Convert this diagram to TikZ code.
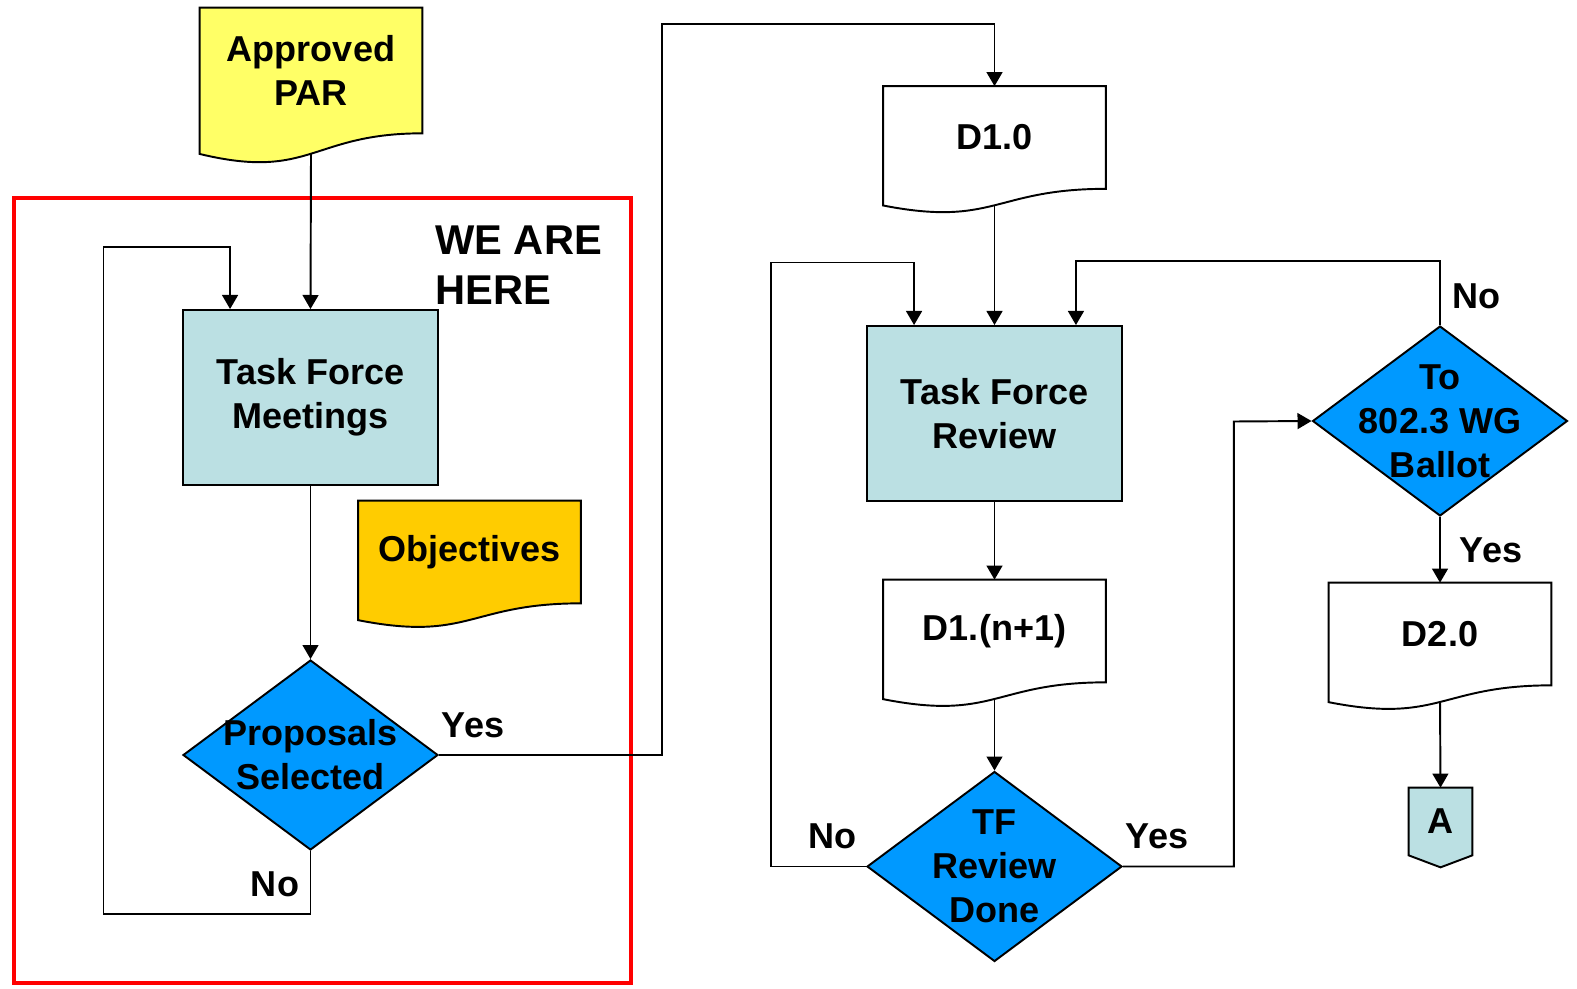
\documentclass[tikz,border=0pt]{standalone}
\usepackage{fontspec}
\setmainfont{Liberation Sans}
\usetikzlibrary{shapes.geometric,arrows.meta,calc,backgrounds}
\definecolor{tfblue}{HTML}{BBE0E3}
\definecolor{askblue}{HTML}{0099FF}
\definecolor{paryellow}{HTML}{FFFF66}
\definecolor{objgold}{HTML}{FFCC00}

\begin{document}
\begin{tikzpicture}[x=0.02cm,y=-0.02cm,
    txt/.style={font=\fontsize{20.5}{25}\selectfont\bfseries,align=center,inner sep=0pt},
    taskbox/.style={txt,draw,line width=1.1pt,fill=tfblue,minimum width=5.1cm,minimum height=3.5cm},
    decision/.style={diamond,draw,line width=1.1pt,fill=askblue,minimum width=5.1cm,minimum height=3.8cm,inner sep=0pt},
    docbox/.style={txt,minimum width=4.44cm,minimum height=2.04cm},
    offpage/.style={txt,minimum width=1.26cm,minimum height=1.34cm},
    shapeline/.style={draw,line width=1.1pt},
    arr/.style={line width=1.1pt,-{Triangle[length=8pt,width=9pt]}},
    lbl/.style={txt}]
  \useasboundingbox (0,0) rectangle (1577,989);

  % documents
  \node[docbox,minimum height=2.5cm] (par) at (311,70.5) {Approved\\PAR};
  \node[docbox] (obj) at (469.5,552) {Objectives};
  \node[docbox] (d10) at (994.5,137.5) {D1.0};
  \node[docbox] (dn) at (994.5,631) {D1.(n+1)};
  \node[docbox] (d20) at (1440,634) {D2.0};

  % task force boxes
  \node[taskbox] (tfm) at (310.5,397.5) {Task Force\\Meetings};
  \node[taskbox] (tfr) at (994.5,413.5) {Task Force\\Review};

  % decisions
  \node[decision,label={[txt]center:Proposals\\Selected}] (ps) at (310.5,755) {};
  \node[decision,label={[txt]center:TF\\Review\\Done}] (tfd) at (994.5,866.5) {};
  \node[decision,label={[txt]center:To\\802.3 WG\\Ballot}] (wg) at (1440,421) {};

  % off-page connector
  \node[offpage] (offA) at (1440.5,821.5) {A};

  \begin{pgfonlayer}{background}
    \foreach \n/\c/\h in {par/paryellow/125,obj/objgold/102,d10/white/101,dn/white/102,d20/white/102}{
      \draw[shapeline,fill=\c] (\n.north west) -- (\n.north east) -- (\n.south east)
        .. controls (\n.south) and ($(\n.south)+(0,0.38*\h)$) .. ($(\n.south west)+(0,0.165*\h)$) -- cycle;
      \coordinate (\n-out) at ($(\n.south)+(0,0.163*\h)$);
    }
    \draw[shapeline,fill=tfblue] (offA.north west) -- (offA.north east) -- (offA.south east)
      -- ($(offA.south)+(0,12)$) -- (offA.south west) -- cycle;
  \end{pgfonlayer}

  % focus frame
  \draw[red,line width=2.3pt] (14,198) rectangle (631,983);
  \node[txt,font=\fontsize{23.7}{28.5}\selectfont\bfseries,align=left,anchor=west] (here) at (435,265) {WE ARE\\HERE};

  % connectors
  \draw[arr] (par-out) -- (tfm.north);
  \draw[arr] (tfm.south) -- (ps.north);
  \draw[arr] (ps.south) -- ++(0,63) -| ++(-207,-667) -| ($(tfm.north west)+(48,0)$);
  \draw[arr] (ps.east) -| ++(223,-731) -| (d10.north);
  \draw[arr] (d10-out) -- (tfr.north);
  \draw[arr] (tfr.south) -- (dn.north);
  \draw[arr] (dn-out) -- (tfd.north);
  \draw[arr] (tfd.west) -| ++(-95,-604) -| ($(tfr.north west)+(48,0)$);
  \draw[arr] (tfd.east) -| ++(111,-445) -- (wg.west);
  \draw[arr] (wg.north) -- ++(0,-64) -| ($(tfr.north east)+(-47,0)$);
  \draw[arr] (wg.south) -- (d20.north);
  \draw[arr] (d20-out) -- (offA.north);

  % branch labels
  \node[lbl] (yes1) at (473,725) {Yes};
  \node[lbl] (no1) at (275,884) {No};
  \node[lbl] (no2) at (832,836) {No};
  \node[lbl] (yes2) at (1157,836) {Yes};
  \node[lbl] (no3) at (1476,296) {No};
  \node[lbl] (yes3) at (1491,550) {Yes};
\end{tikzpicture}
\end{document}
